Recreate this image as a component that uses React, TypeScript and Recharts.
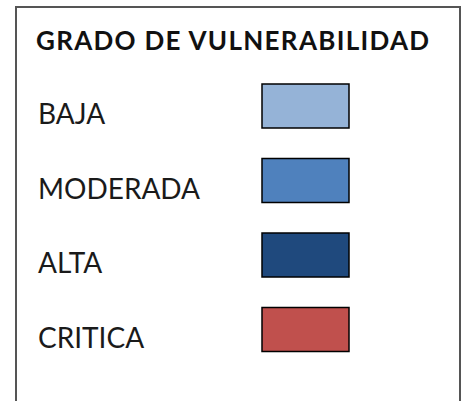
import { BarChart, Bar, XAxis, YAxis, Cell } from "recharts"

const title = "GRADO DE VULNERABILIDAD"
const levels = ["BAJA", "MODERADA", "ALTA", "CRITICA"]
const colors = ["#95B3D7", "#4F81BD", "#1F497D", "#C0504D"]
const weights = [1, 1, 1, 1]

const data = levels.map((name, i) => ({ name, value: weights[i] }))

const FONT = "Lato, 'Open Sans', sans-serif"

const LevelTick = (props: any) => {
    const { y, payload } = props
    return (
        <text x={38} y={y} dy={18} fill="#1a1a1a" fontSize={28} fontFamily={FONT} textAnchor="start">
            {payload.value}
        </text>
    )
}

export default function App() {
    return (
        <div style={{ position: "absolute", left: 0, top: 0, width: 469, height: 401, background: "#fff", overflow: "hidden" }}>
            <div
                style={{
                    position: "absolute",
                    left: 15,
                    top: 6,
                    width: 446,
                    height: 420,
                    border: "2px solid #555",
                    boxSizing: "border-box",
                }}
            />
            <div
                style={{
                    position: "absolute",
                    left: 36,
                    top: 25,
                    fontFamily: FONT,
                    fontWeight: 700,
                    fontSize: 26,
                    letterSpacing: 1.3,
                    lineHeight: "30px",
                    color: "#111",
                    whiteSpace: "nowrap",
                }}
            >
                {title}
            </div>
            <div style={{ position: "absolute", left: 0, top: 0 }}>
                <BarChart
                    width={469}
                    height={401}
                    data={data}
                    layout="vertical"
                    margin={{ top: 69, right: 120, bottom: 34, left: 38 }}
                    barSize={44}
                >
                    <XAxis type="number" domain={[0, 1]} hide />
                    <YAxis
                        type="category"
                        dataKey="name"
                        width={224}
                        axisLine={false}
                        tickLine={false}
                        tick={<LevelTick />}
                        interval={0}
                    />
                    <Bar dataKey="value" stroke="#000" strokeWidth={1.5} isAnimationActive={false}>
                        {data.map((entry, index) => (
                            <Cell key={`cell-${index}`} fill={colors[index]} />
                        ))}
                    </Bar>
                </BarChart>
            </div>
        </div>
    )
}
